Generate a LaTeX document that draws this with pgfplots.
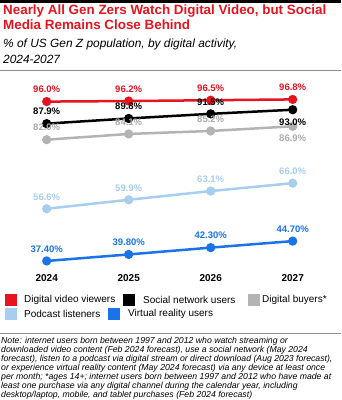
\documentclass[border=0pt]{standalone}
\usepackage{pgfplots}
\pgfplotsset{compat=1.18}
\usepackage{fontspec}
\setmainfont{Liberation Sans}
\definecolor{emred}{HTML}{E5141F}
\definecolor{emgray}{HTML}{B3B3B3}
\definecolor{emgraytxt}{HTML}{ABABAB}
\definecolor{emlblue}{HTML}{A7CDF0}
\definecolor{emblue}{HTML}{1A73E8}
\definecolor{rule}{HTML}{8C8C8C}
\begin{document}
\begin{tikzpicture}
\clip (0pt,0pt) rectangle (341pt,-400pt);
\fill[black] (0pt,0pt) rectangle (341pt,-2.5pt);
\node[anchor=north west, inner sep=0, align=left, text=emred, font=\bfseries\fontsize{13.4}{15}\selectfont] at (3pt,-5pt) {Nearly All Gen Zers Watch Digital Video, but Social\\Media Remains Close Behind};
\node[anchor=north west, inner sep=0, align=left, font=\itshape\fontsize{11.9}{16}\selectfont] at (3pt,-39pt) {\% of US Gen Z population, by digital activity,\\2024-2027};
\fill[rule] (0pt,-69.5pt) rectangle (341pt,-71.2pt);
\begin{axis}[at={(5.7pt,-270.2pt)}, anchor=south west, scale only axis,
  width=328pt, height=179.5pt, xmin=2023.5, xmax=2027.5, ymin=34, ymax=100,
  axis line style={draw=none}, ytick=\empty, xtick={2024,2025,2026,2027},
  xticklabels={2024,2025,2026,2027},
  xticklabel style={font=\bfseries\fontsize{10}{12}\selectfont, anchor=center, yshift=-8pt},
  major tick length=0pt, clip=false,
  every axis plot/.append style={line width=2.5pt, mark=*, mark size=3.3pt},
  point meta=explicit symbolic,
  nodes near coords style={font=\bfseries\fontsize{9.5}{11}\selectfont, anchor=center, inner sep=0pt}]
\addplot[emgray, mark options={fill=emgray}] coordinates {(2024,82.0) (2025,84.1) (2026,85.2) (2027,86.9)};
\addplot[black, mark options={fill=black}] coordinates {(2024,87.9) (2025,89.8) (2026,91.5) (2027,93.0)};
\addplot[emred, mark options={fill=emred}] coordinates {(2024,96.0) (2025,96.2) (2026,96.5) (2027,96.8)};
\addplot[emlblue, mark options={fill=emlblue}] coordinates {(2024,56.6) (2025,59.9) (2026,63.1) (2027,66.0)};
\addplot[emblue, mark options={fill=emblue}] coordinates {(2024,37.4) (2025,39.8) (2026,42.3) (2027,44.7)};
% labels
\addplot[draw=none, mark=none, nodes near coords, nodes near coords style={text=emgraytxt, yshift=12pt}] coordinates {(2024,82.0)[82.0\%] (2025,84.1)[84.1\%] (2026,85.2)[85.2\%]};
\addplot[draw=none, mark=none, nodes near coords, nodes near coords style={text=emgraytxt, yshift=-12pt}] coordinates {(2027,86.9)[86.9\%]};
\addplot[draw=none, mark=none, nodes near coords, nodes near coords style={text=black, yshift=12pt}] coordinates {(2024,87.9)[87.9\%] (2025,89.8)[89.8\%] (2026,91.5)[91.5\%]};
\addplot[draw=none, mark=none, nodes near coords, nodes near coords style={text=black, yshift=-12pt}] coordinates {(2027,93.0)[93.0\%]};
\addplot[draw=none, mark=none, nodes near coords, nodes near coords style={text=emred, yshift=12pt}] coordinates {(2024,96.0)[96.0\%] (2025,96.2)[96.2\%] (2026,96.5)[96.5\%] (2027,96.8)[96.8\%]};
\addplot[draw=none, mark=none, nodes near coords, nodes near coords style={text=emlblue, yshift=12pt}] coordinates {(2024,56.6)[56.6\%] (2025,59.9)[59.9\%] (2026,63.1)[63.1\%] (2027,66.0)[66.0\%]};
\addplot[draw=none, mark=none, nodes near coords, nodes near coords style={text=emblue, yshift=12pt}] coordinates {(2024,37.4)[37.40\%] (2025,39.8)[39.80\%] (2026,42.3)[42.30\%] (2027,44.7)[44.70\%]};
\end{axis}
% legend
\tikzset{lt/.style={anchor=west, inner sep=0, font=\fontsize{10}{12}\selectfont}}
\fill[emred] (5pt,-294pt) rectangle (17pt,-306pt);
\node[lt] at (24pt,-300pt) {Digital video viewers};
\fill[black] (123pt,-294pt) rectangle (135pt,-306pt);
\node[lt] at (143pt,-300pt) {Social network users};
\fill[emgray] (248pt,-294pt) rectangle (260pt,-306pt);
\node[lt] at (262pt,-300pt) {Digital buyers*};
\fill[emlblue] (5pt,-307.5pt) rectangle (17pt,-319.5pt);
\node[lt] at (24pt,-313.5pt) {Podcast listeners};
\fill[emblue] (108pt,-307.5pt) rectangle (120pt,-319.5pt);
\node[lt] at (128pt,-313.5pt) {Virtual reality users};
\fill[rule] (0pt,-332.5pt) rectangle (341pt,-334pt);
\node[anchor=north west, inner sep=0, align=left, font=\itshape\fontsize{8.7}{9}\selectfont] at (1pt,-337pt) {Note: internet users born between 1997 and 2012 who watch streaming or\\downloaded video content (Feb 2024 forecast), use a social network (May 2024\\forecast), listen to a podcast via digital stream or direct download (Aug 2023 forecast),\\or experience virtual reality content (May 2024 forecast) via any device at least once\\per month; *ages 14+; internet users born between 1997 and 2012 who have made at\\least one purchase via any digital channel during the calendar year, including\\desktop/laptop, mobile, and tablet purchases (Feb 2024 forecast)\\Source: EMARKETER Forecast, May 2024};
\end{tikzpicture}
\end{document}
